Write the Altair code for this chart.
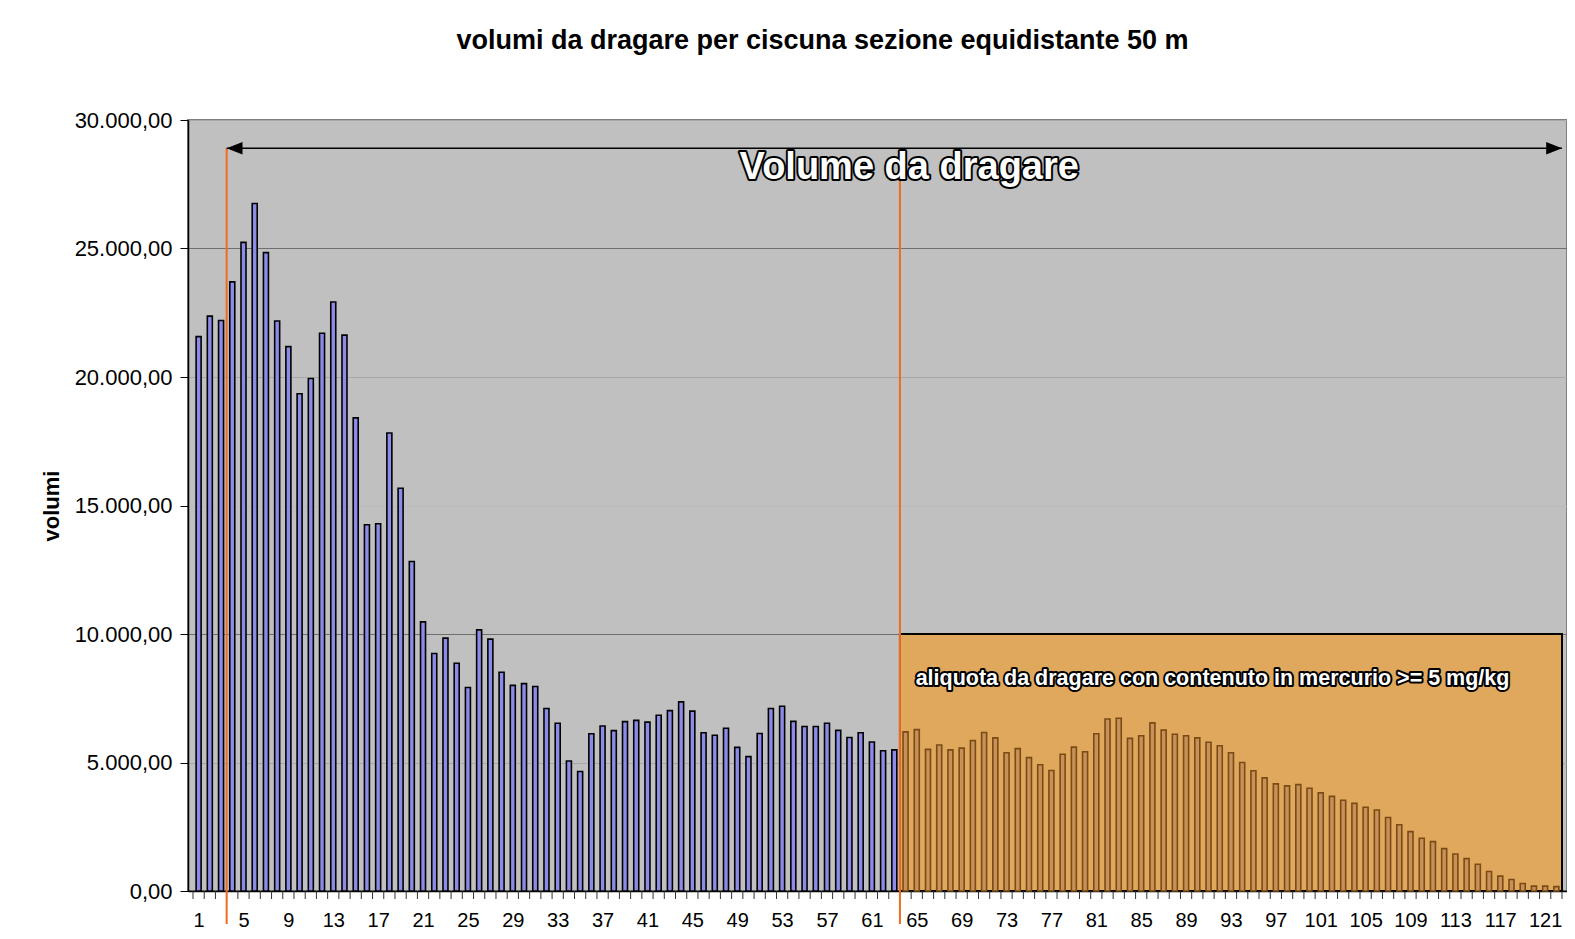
import altair as alt
import pandas as pd

# ---------------- data ----------------
sezioni = list(range(1, 123))
volumi = [
    21570, 22370, 22200, 23700, 25240, 26750, 24840, 22180, 21180, 19350,
    19940, 21700, 22920, 21630, 18410, 14250, 14290, 17820, 15670, 12820,
    10470, 9240, 9840, 8860, 7920, 10160, 9800, 8510, 8000, 8070,
    7960, 7100, 6530, 5060, 4650, 6120, 6420, 6240, 6590, 6640,
    6570, 6840, 7020, 7360, 7000, 6160, 6060, 6330, 5590, 5230,
    6130, 7100, 7190, 6600, 6400, 6400, 6530, 6250, 5970, 6160,
    5800, 5460, 5490, 6190, 6280, 5510, 5680, 5490, 5560, 5850,
    6170, 5960, 5380, 5540, 5190, 4910, 4690, 5320, 5600, 5420,
    6120, 6690, 6720, 5940, 6040, 6540, 6260, 6100, 6040, 5960,
    5790, 5650, 5380, 5000, 4680, 4400, 4170, 4090, 4140, 4000,
    3820, 3680, 3530, 3410, 3260, 3150, 2860, 2580, 2310, 2050,
    1920, 1650, 1440, 1260, 1040, 760, 580, 450, 290, 190,
    190, 170,
]
prima_sezione_mercurio = 64
gruppi = ["base" if s < prima_sezione_mercurio else "mercurio" for s in sezioni]
x_label_values = list(range(1, 122, 4))
y_tick_values = [0, 5000, 10000, 15000, 20000, 25000, 30000]

titolo = "volumi da dragare per ciscuna sezione equidistante 50 m"
titolo_y = "volumi"
testo_volume = "Volume da dragare"
testo_mercurio = "aliquota da dragare con contenuto in mercurio >= 5 mg/kg"

# annotation anchors (data units)
inizio_dragaggio = 3.5
inizio_mercurio = 63.5
fine_x = 122.5
livello_freccia = 28900
soglia_mercurio = 10000

# ---------------- layout / style ----------------
W, H = 1379, 771
SANS = "Liberation Sans, Arial, Helvetica, sans-serif"

df = pd.DataFrame({"sezione": sezioni, "volume": volumi, "gruppo": gruppi})

xscale = alt.Scale(domain=[0.5, 122.5], nice=False, zero=False)
yscale = alt.Scale(domain=[0, 30000], nice=False)

ita_fmt = ("replace(replace(replace(format(datum.value, ',.2f'), ',', '_'), '.', ','), '_', '.')")

bars = alt.Chart(df).mark_bar(size=5, strokeWidth=1.6).encode(
    x=alt.X(
        "sezione:Q", scale=xscale,
        axis=alt.Axis(
            values=x_label_values, ticks=False, tickSize=0, grid=False,
            labelFont=SANS, labelFontSize=20, labelPadding=19,
            labelColor="black", domainColor="black", domainWidth=1.5,
            labelOverlap=False, labelFlush=False, title=None,
        ),
    ),
    y=alt.Y(
        "volume:Q", scale=yscale,
        axis=alt.Axis(
            values=y_tick_values, labelExpr=ita_fmt,
            labelFont=SANS, labelFontSize=22, labelColor="black",
            labelPadding=8, tickSize=8, tickColor="black",
            domainColor="black", domainWidth=1.5,
            grid=True,
            gridColor={"condition": [
                {"test": "datum.value == 25000 || datum.value == 10000", "value": "#6f6f6f"},
                {"test": "datum.value == 15000", "value": "#bababa"},
            ], "value": "#a8a8a8"},
            gridWidth=1,
            title=titolo_y, titleFont=SANS, titleFontSize=22,
            titleFontWeight="bold", titleColor="black", titlePadding=11,
        ),
    ),
    fill=alt.Fill("gruppo:N",
                  scale=alt.Scale(domain=["base", "mercurio"], range=["#8c8ce8", "#c8915a"]),
                  legend=None),
    stroke=alt.Stroke("gruppo:N",
                      scale=alt.Scale(domain=["base", "mercurio"], range=["#000000", "#7a4b14"]),
                      legend=None),
)

# x tick marks at category boundaries
tick_df = pd.DataFrame({"pos": [s - 0.5 for s in sezioni] + [sezioni[-1] + 0.5]})
ticks = alt.Chart(tick_df).mark_rule(color="#333333", strokeWidth=1).encode(
    x=alt.X("pos:Q", scale=xscale),
    y=alt.value(H),
    y2=alt.value(H + 8),
)

# orange region (mercury >= 5 mg/kg)
rect_df = pd.DataFrame({"x": [inizio_mercurio], "x2": [fine_x], "y": [0], "y2": [soglia_mercurio]})
region = alt.Chart(rect_df).mark_rect(fill="#DFA85C", stroke="black", strokeWidth=2).encode(
    x=alt.X("x:Q", scale=xscale), x2="x2:Q",
    y=alt.Y("y:Q", scale=yscale), y2="y2:Q",
)

# orange vertical markers
vline_df = pd.DataFrame({"x": [inizio_dragaggio, inizio_mercurio], "y": [livello_freccia, livello_freccia]})
vlines = alt.Chart(vline_df).mark_rule(color="#F26B1D", strokeWidth=2).encode(
    x=alt.X("x:Q", scale=xscale),
    y=alt.Y("y:Q", scale=yscale),
    y2=alt.value(H + 33),
)

# double-headed arrow
arrow_df = pd.DataFrame({"x": [inizio_dragaggio], "x2": [fine_x], "y": [livello_freccia]})
arrow_line = alt.Chart(arrow_df).mark_rule(color="black", strokeWidth=1.5).encode(
    x=alt.X("x:Q", scale=xscale), x2="x2:Q",
    y=alt.Y("y:Q", scale=yscale),
)
head_l = alt.Chart(pd.DataFrame({"x": [inizio_dragaggio], "y": [livello_freccia]})).mark_point(
    shape="M0,0L2,-0.8L2,0.8Z", filled=True, size=250, color="black", opacity=1
).encode(x=alt.X("x:Q", scale=xscale), y=alt.Y("y:Q", scale=yscale))
head_r = alt.Chart(pd.DataFrame({"x": [fine_x], "y": [livello_freccia]})).mark_point(
    shape="M0,0L-2,-0.8L-2,0.8Z", filled=True, size=250, color="black", opacity=1
).encode(x=alt.X("x:Q", scale=xscale), y=alt.Y("y:Q", scale=yscale))


def outlined(text, x, y, size, align):
    d = pd.DataFrame({"x": [x], "y": [y], "t": [text]})
    base = alt.Chart(d)
    enc = dict(
        x=alt.X("x:Q", scale=xscale),
        y=alt.Y("y:Q", scale=yscale),
        text="t:N",
    )
    under = base.mark_text(font=SANS, fontSize=size, fontWeight="bold", align=align,
                           baseline="alphabetic", fill="white", stroke="black",
                           strokeWidth=4, strokeJoin="round").encode(**enc)
    over = base.mark_text(font=SANS, fontSize=size, fontWeight="bold", align=align,
                          baseline="alphabetic", fill="white").encode(**enc)
    return [under, over]


txt_volume = outlined(testo_volume, 64.33, 27700, 38, "center")
txt_merc = outlined(testo_mercurio, 64.9, 8000, 21.5, "left")

chart = alt.layer(
    region, bars, ticks, vlines, arrow_line, head_l, head_r, *txt_volume, *txt_merc
).properties(
    width=W, height=H,
    autosize=alt.AutoSizeParams(type="none"),
    padding={"left": 180, "top": 112, "right": 0, "bottom": 40},
    background="white",
    title=alt.TitleParams(
        titolo, font=SANS, fontSize=27, fontWeight="bold", color="black",
        anchor="middle", dx=-55, offset=33, baseline="alphabetic",
    ),
).configure_view(
    fill="#C0C0C0", stroke="#7f7f7f", strokeWidth=2,
)

chart.save("out.html", embed_options={"renderer": "svg", "actions": False})
